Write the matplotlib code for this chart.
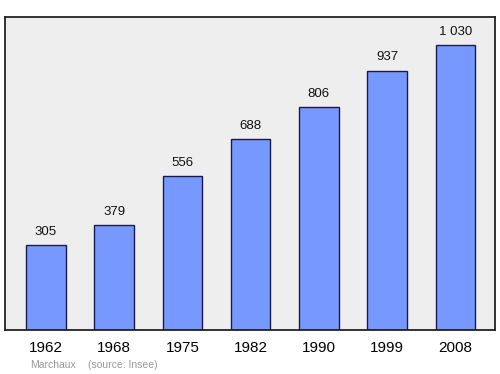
import matplotlib.pyplot as plt

plt.rcParams['font.family'] = ['Liberation Sans', 'DejaVu Sans']

# Population data
years = ['1962', '1968', '1975', '1982', '1990', '1999', '2008']
population = [305, 379, 556, 688, 806, 937, 1030]
value_labels = ['305', '379', '556', '688', '806', '937', '1 030']

fig = plt.figure(figsize=(5, 3.74), dpi=100)
ax = fig.add_axes([0.01, 0.118, 0.98, 0.837])
ax.set_facecolor('#eeeeee')

x = list(range(len(years)))
ax.bar(x, population, width=0.58, color='#7799ff', edgecolor='#1a1a4d', linewidth=1.0, zorder=2)

for xi, v, lab in zip(x, population, value_labels):
    ax.text(xi, v + 26, lab, ha='center', va='bottom', fontsize=9.5, color='#111111')

ax.set_xlim(-0.6, 6.58)
ax.set_ylim(0, 1131)
ax.set_yticks([])
ax.set_xticks(x)
ax.set_xticklabels(years, fontsize=11)
ax.tick_params(axis='x', length=0, pad=8)

for s in ax.spines.values():
    s.set_linewidth(1.3)
    s.set_color('#222222')

fig.text(0.06, 0.016, 'Marchaux', fontsize=7.5, color='#999999')
fig.text(0.176, 0.016, '(source: Insee)', fontsize=7.5, color='#999999')

fig.savefig('out.png')
